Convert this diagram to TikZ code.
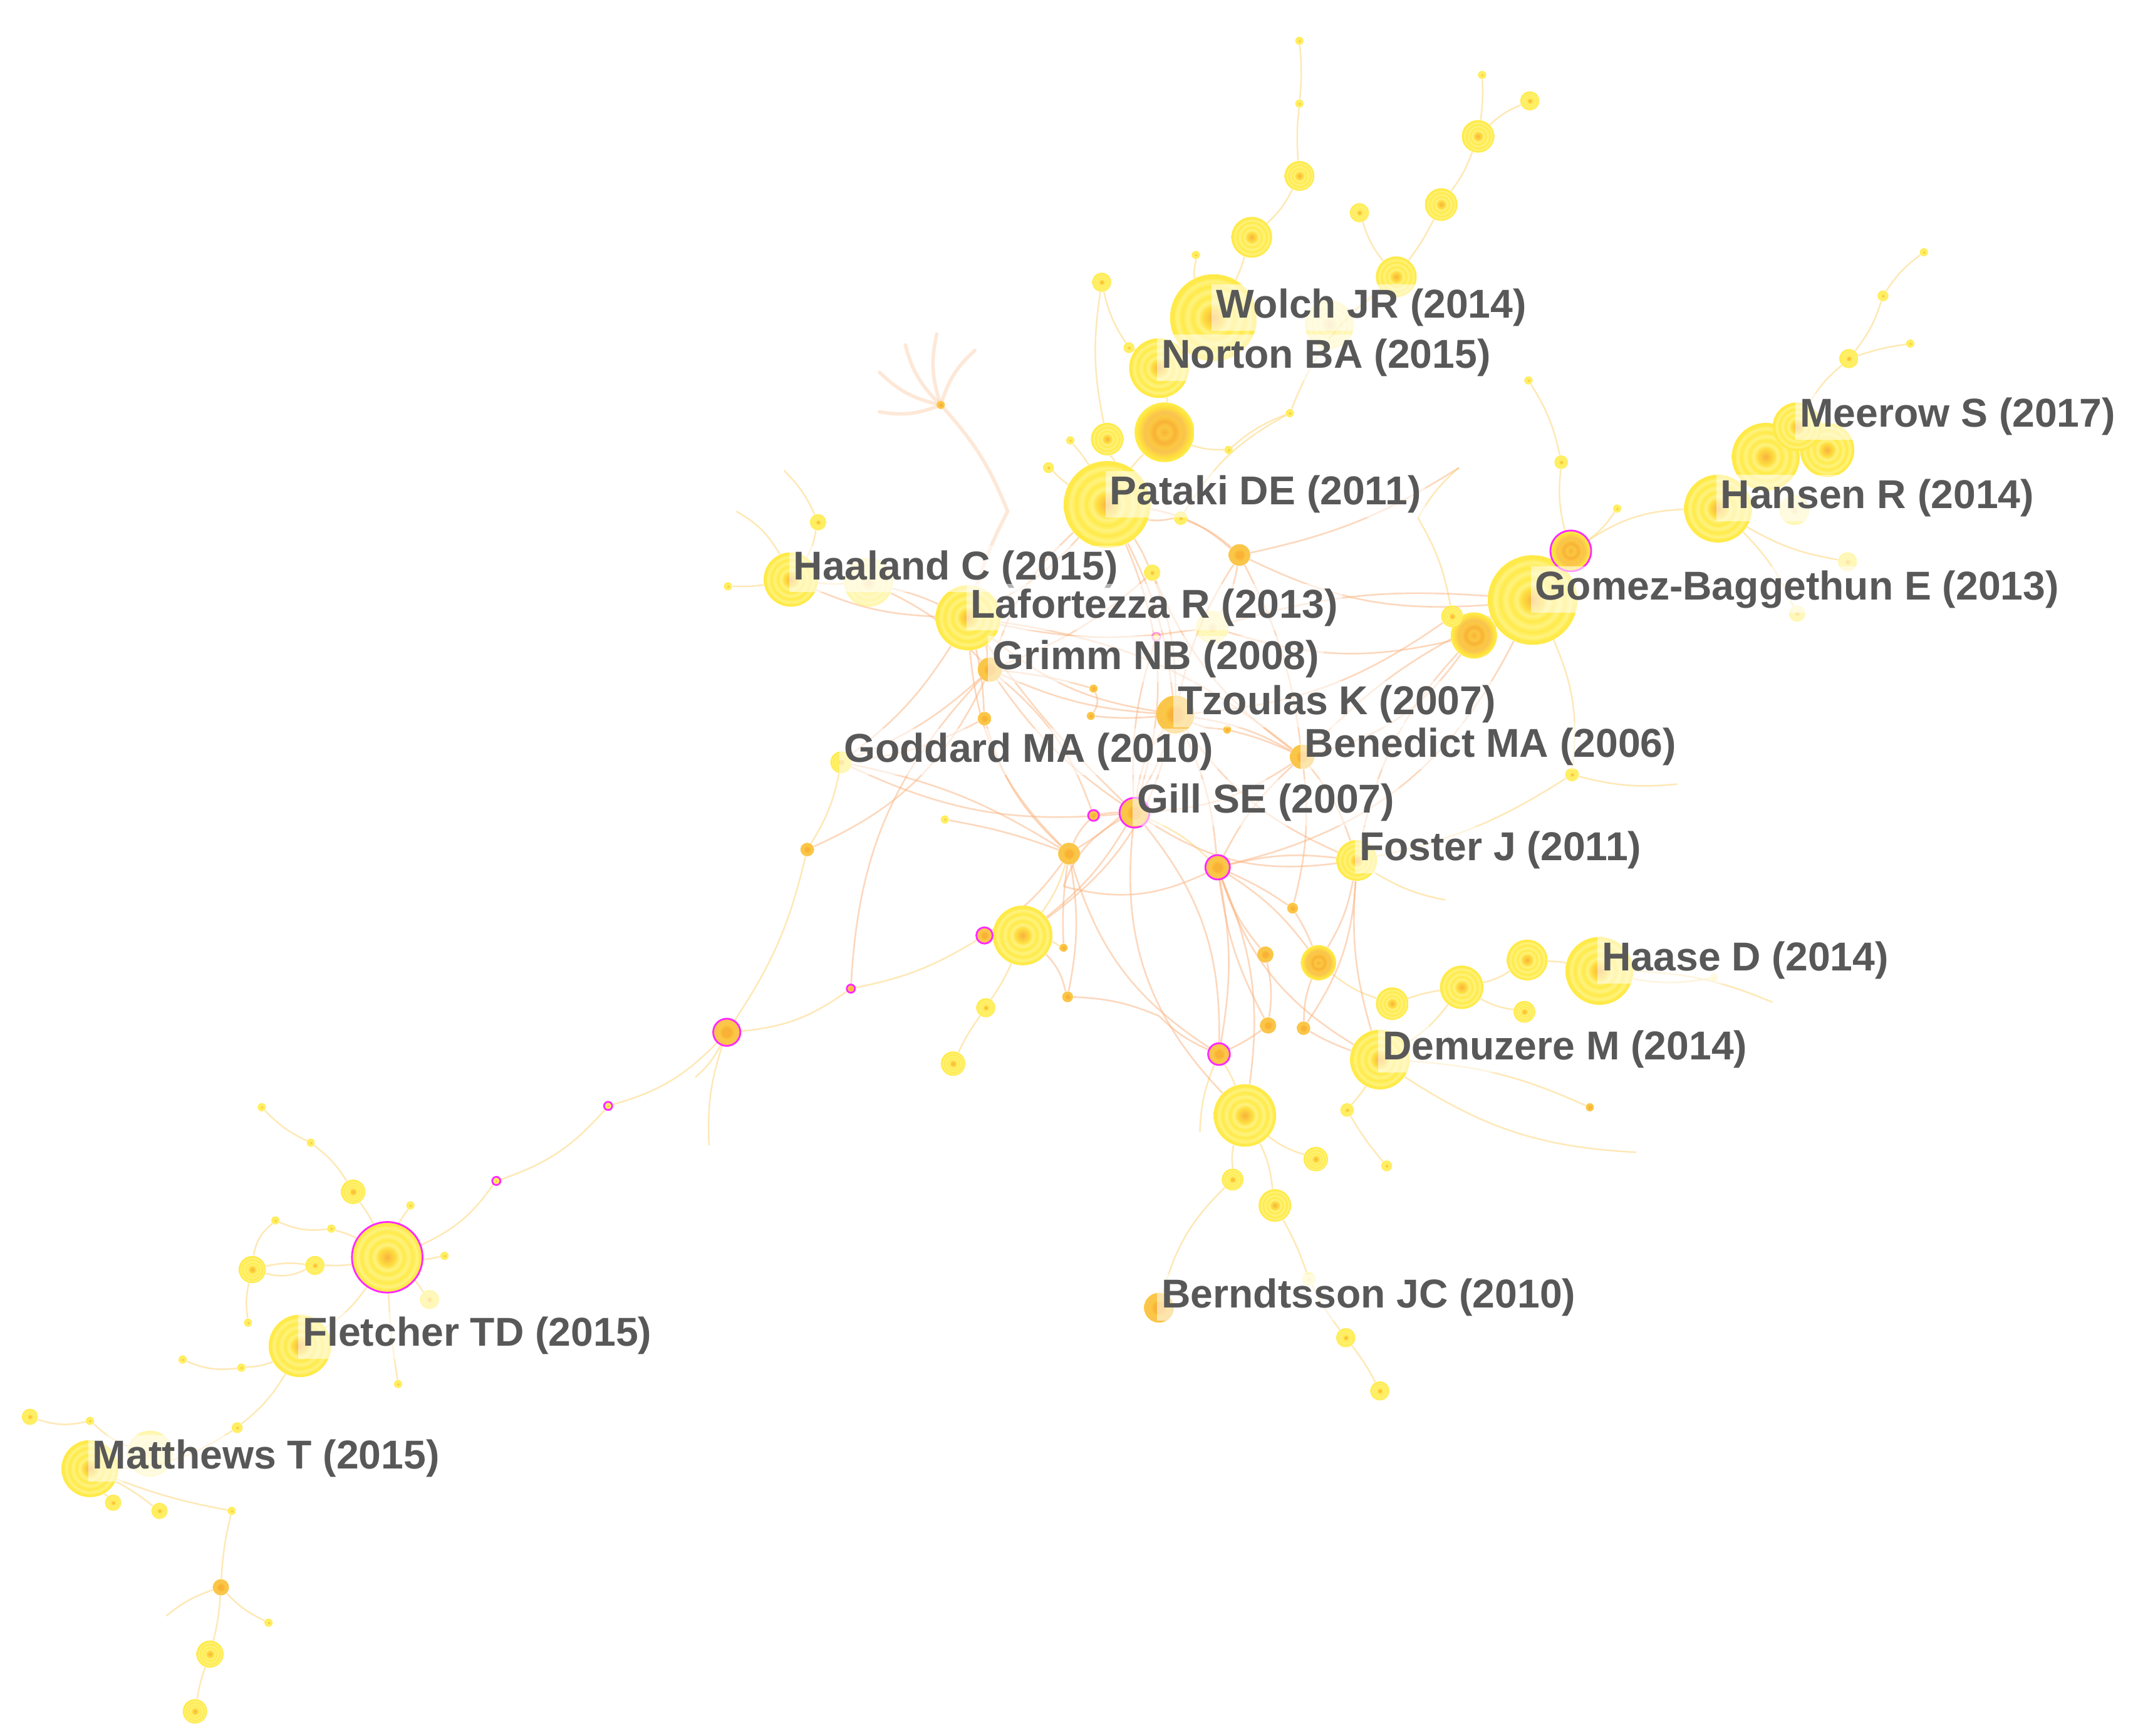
\documentclass[tikz,border=0pt]{standalone}
\usepackage{fontspec}
\newfontfamily\labfont{Liberation Sans}
\definecolor{cY}{RGB}{255,234,72}
\definecolor{cYl}{RGB}{255,243,128}
\definecolor{cYm}{RGB}{254,222,62}
\definecolor{cO}{RGB}{249,178,55}
\definecolor{cOm}{RGB}{251,200,65}
\definecolor{cOo}{RGB}{250,196,80}
\definecolor{labgray}{RGB}{88,88,88}
\definecolor{eY}{RGB}{253,222,150}
\definecolor{eO}{RGB}{250,178,125}
\definecolor{mg}{RGB}{255,40,255}
\pgfdeclareradialshading{ringY}{\pgfpoint{0bp}{0bp}}{color(0bp)=(cO); color(3bp)=(cOm); color(6bp)=(cYm); color(9bp)=(cYl); color(12bp)=(cY); color(15bp)=(cYl); color(18bp)=(cY); color(21bp)=(cYl); color(23bp)=(cY); color(50bp)=(cY)}
\pgfdeclareradialshading{ringM}{\pgfpoint{0bp}{0bp}}{color(0bp)=(cO); color(5bp)=(cOm); color(9bp)=(cO); color(13bp)=(cOm); color(17bp)=(cOo); color(21bp)=(cYm); color(24bp)=(cY); color(50bp)=(cY)}
\pgfdeclareradialshading{ringO}{\pgfpoint{0bp}{0bp}}{color(0bp)=(cO); color(8bp)=(cO); color(14bp)=(cOm); color(20bp)=(cOo); color(25bp)=(cOm); color(50bp)=(cOm)}
\pgfdeclarelayer{bg}
\pgfsetlayers{bg,main}
\tikzset{
  cnode/.style={circle,inner sep=0pt,draw=none,shading=ringY},
  orn/.style={shading=ringO},
  mid/.style={shading=ringM},
  faint/.style={opacity=0.45},
  mag/.style={draw=mg,line width=0.8pt},
  lab/.style={font=\labfont\bfseries\fontsize{18.3}{20}\selectfont,text=labgray,fill=white,fill opacity=0.55,text opacity=1,inner sep=2pt,anchor=base west},
  edgeY/.style={draw=eY,line width=0.7pt,opacity=0.7},
  edgeO/.style={draw=eO,line width=0.75pt,opacity=0.5},
  edgeF/.style={draw=eO,line width=1.6pt,opacity=0.3,line cap=round}
}
\newcommand\CN[5]{\node[cnode,#5,minimum size=#4*1.234pt] (#1) at (#2,#3) {};}
\newcommand\LB[3]{\node[lab] (#1) at ([xshift=-1pt]#2.center) {#3};}
\begin{document}
\begin{tikzpicture}[x=0.021767cm,y=-0.021767cm]
\useasboundingbox (0,0) rectangle (1568,1273);
% ---------- nodes: top
\CN{t1}{953}{30}{3}{}
\CN{t2}{953}{76}{3}{}
\CN{t3}{953}{129}{11}{}
\CN{t4}{918}{174}{15}{}
\CN{t5}{877}{187}{3}{}
\CN{wfa}{975}{238}{18}{faint}
\CN{wol}{890}{233}{32}{}
\CN{t6}{1087}{55}{3}{}
\CN{t7}{1122}{74}{7}{}
\CN{t8}{1084}{100}{12}{}
\CN{t9}{1057}{150}{12}{}
\CN{t10}{997}{156}{7}{}
\CN{t11}{1024}{203}{15}{}
\CN{t12}{808}{207}{7}{}
\CN{t13}{828}{255}{4}{}
\CN{nor}{850}{270}{22}{}
\CN{t14}{854}{317}{22}{mid}
\CN{t15}{812}{322}{12}{}
\CN{t16}{785}{323}{3}{}
\CN{t17}{769}{343}{4}{}
\CN{t18}{901}{330}{3}{}
\CN{t19}{946}{303}{3}{}
\CN{t20}{1121}{279}{3}{}
\CN{t21}{1145}{339}{5}{}
\CN{t22}{1186}{373}{3}{}
\CN{pat}{812}{370}{32}{}
\CN{t24}{1295}{335}{25}{}
\CN{t25}{1340}{330}{20}{}
\CN{mee}{1318}{313}{18}{}
\CN{hfa}{1316}{374}{11}{faint}
\CN{han}{1260}{373}{25}{}
\CN{t26}{1356}{263}{7}{}
\CN{t27}{1381}{217}{4}{}
\CN{t28}{1411}{185}{3}{}
\CN{t29}{1401}{252}{3}{}
\CN{t30}{1355}{412}{7}{faint}
\CN{t31}{1318}{450}{6}{faint}
\CN{t32}{1081}{466}{17}{mid}
\CN{t33}{1065}{452}{8}{}
\CN{gom}{1124}{440}{33}{}
\CN{t23}{1152}{404}{15}{mid,mag}
\CN{t34}{637}{427}{18}{faint}
\CN{hal}{580}{425}{20}{}
\CN{t35}{600}{383}{6}{}
\CN{t36}{534}{430}{3}{}
\CN{laf}{710}{453}{24}{}
\CN{t37}{845}{420}{6}{}
\CN{t38}{909}{407}{8}{orn}
\CN{t39}{866}{380}{5}{}
\CN{t40}{889}{460}{12}{faint}
\CN{t40b}{848}{467}{3}{mag,faint}
\CN{gri}{726}{491}{9}{orn}
\CN{t41}{722}{527}{5}{orn}
\CN{t41b}{802}{505}{3}{orn}
\CN{t41c}{800}{525}{3}{orn}
\CN{t41d}{900}{535}{3}{orn}
\CN{tzo}{862}{524}{14}{orn}
\CN{god}{617}{559}{8}{}
\CN{ben}{955}{555}{9}{orn}
\CN{t42}{1153}{568}{5}{}
\CN{gil}{832}{596}{11}{orn,mag}
\CN{t43}{802}{598}{4}{orn,mag}
\CN{t44}{784}{626}{8}{orn}
\CN{t45}{693}{601}{3}{}
\CN{t46}{592}{623}{5}{orn}
\CN{fos}{995}{631}{15}{}
\CN{t47}{893}{636}{9}{orn,mag}
\CN{fan}{690}{297}{3}{orn}
% ---------- nodes: lower centre
\CN{t48}{750}{686}{22}{}
\CN{t49}{722}{686}{6}{orn,mag}
\CN{t50}{723}{739}{7}{}
\CN{t51}{699}{780}{9}{}
\CN{t52}{783}{731}{4}{orn}
\CN{t53}{780}{695}{3}{orn}
\CN{t54}{624}{725}{3}{orn,mag}
\CN{t55}{533}{757}{10}{orn,mag}
\CN{t56}{446}{811}{3}{mag}
\CN{t57}{364}{866}{3}{mag}
\CN{t58}{948}{666}{4}{orn}
\CN{t59}{928}{700}{6}{orn}
\CN{t60}{967}{706}{13}{mid}
\CN{t61}{930}{752}{6}{orn}
\CN{t62}{956}{754}{5}{orn}
\CN{t63}{894}{773}{8}{orn,mag}
\CN{t64}{913}{818}{23}{}
\CN{t65}{965}{850}{9}{}
\CN{t66}{904}{865}{8}{}
\CN{t67}{935}{884}{12}{}
\CN{t68}{960}{938}{5}{faint}
\CN{t69}{987}{981}{7}{}
\CN{t70}{1012}{1020}{7}{}
\CN{ber}{850}{959}{11}{orn}
\CN{t71}{988}{814}{5}{}
\CN{t72}{1017}{855}{4}{}
\CN{dem}{1012}{777}{22}{}
\CN{t73}{1021}{736}{12}{}
\CN{t74}{1072}{724}{16}{}
\CN{t75}{1120}{704}{15}{}
\CN{t76}{1118}{742}{8}{}
\CN{has}{1173}{712}{25}{}
\CN{t77}{1257}{717}{3}{faint}
\CN{t78}{1166}{812}{3}{orn}
% ---------- nodes: lower left
\CN{fl0}{284}{922}{26}{mag}
\CN{l1}{259}{874}{9}{}
\CN{l2}{301}{884}{3}{}
\CN{l3}{326}{921}{3}{}
\CN{l4}{315}{953}{7}{faint}
\CN{l5}{228}{838}{3}{}
\CN{l6}{192}{812}{3}{}
\CN{l7}{185}{931}{10}{}
\CN{l8}{231}{928}{7}{}
\CN{l9}{202}{895}{3}{}
\CN{l10}{243}{901}{3}{}
\CN{l11}{182}{970}{3}{}
\CN{fle}{220}{987}{23}{}
\CN{l12}{177}{1003}{3}{}
\CN{l13}{134}{997}{3}{}
\CN{l14}{292}{1015}{3}{}
\CN{l15}{22}{1039}{6}{}
\CN{l16}{66}{1042}{3}{}
\CN{l17}{110}{1066}{17}{faint}
\CN{mat}{66}{1077}{21}{}
\CN{l18}{83}{1102}{6}{}
\CN{l19}{117}{1108}{6}{}
\CN{l20}{170}{1108}{3}{}
\CN{l21}{174}{1047}{4}{}
\CN{l22}{162}{1164}{6}{orn}
\CN{l23}{197}{1190}{3}{}
\CN{l24}{154}{1213}{10}{}
\CN{l25}{143}{1255}{9}{}
% ---------- free ends
\coordinate (f1) at (687,245);
\coordinate (f2) at (664,253);
\coordinate (f3) at (645,273);
\coordinate (f4) at (645,302);
\coordinate (f5) at (715,257);
\coordinate (f6) at (739,375);
\coordinate (f7) at (575,345);
\coordinate (f8) at (540,375);
\coordinate (f9) at (510,790);
\coordinate (f10) at (520,840);
\coordinate (f11) at (1200,845);
\coordinate (f12) at (1300,735);
\coordinate (f13) at (122,1185);
\coordinate (f14) at (1060,660);
\coordinate (f15) at (1070,343);
\coordinate (f16) at (1230,575);
\coordinate (f17) at (780,650);
\coordinate (f18) at (1040,380);
\coordinate (f19) at (850,745);
\coordinate (f20) at (880,830);
% ---------- edges
\begin{pgfonlayer}{bg}
\foreach \a/\b/\c in {t1/t2/5,t2/t3/-5,t3/t4/10,t4/wol/5,t5/wol/-10,t6/t8/5,t7/t8/-10,t8/t9/8,t9/t11/5,t10/t11/-10,t11/wfa/5,t12/t13/-10,t13/nor/5,nor/t14/10,t14/pat/-5,t15/pat/10,t16/pat/5,t17/pat/-5,t18/t14/10,t19/t18/-10,t19/t11/15,t19/t39/-15,t20/t21/10,t21/t23/-10,t22/t23/10,t23/gom/-10,t23/han/15,han/t24/5,t24/t25/5,mee/t26/10,t26/t27/-10,t27/t28/10,t26/t29/5,han/t30/-10,han/t31/10,gom/t33/10,t32/gom/-5,t35/hal/10,t36/hal/-5,t34/hal/5,f7/t35/10,f8/hal/15,t12/t15/-10,nor/wol/5}
  \draw[edgeY] (\a) to[bend left=\c] (\b);
\foreach \a/\b/\c in {l1/fl0/5,l2/fl0/-5,l3/fl0/5,l4/fl0/-5,l5/l1/10,l6/l5/-10,l7/l8/10,l8/fl0/-5,l7/l8/-20,l9/l10/-15,l10/fl0/5,l11/l7/10,l9/l7/-20,fle/fl0/-10,fle/l12/10,l12/l13/15,l14/fl0/3,mat/l21/-15,l21/fle/-10,l15/l16/-15,l16/l17/-10,l18/mat/5,l19/mat/-5,l20/mat/5,l22/l20/5,l22/l23/-10,l22/l24/5,l24/l25/-5,f13/l22/10,fl0/t57/-15,t57/t56/-15,t56/t55/-15,t55/t54/-15,t54/t49/-10,t49/t48/5,t55/t46/-10,t46/god/-10,f9/t55/-10,f10/t55/10,t50/t48/-5,t51/t50/5,t48/t44/-10,t48/t53/5}
  \draw[edgeY] (\a) to[bend left=\c] (\b);
\foreach \a/\b/\c in {t63/t64/5,t64/t66/-10,t64/t67/10,t64/t65/-10,t67/t68/5,t68/t69/-5,t69/t70/5,ber/t66/15,t71/dem/-5,t72/t71/5,dem/t74/-10,t73/t74/5,t74/t75/-10,t75/has/5,t76/t74/10,t60/t73/-10,has/t77/-10,has/f12/10,dem/f11/-15,dem/t78/10,t42/fos/10,t42/gom/-15,f16/t42/10,fos/f14/-10,gil/t47/10,f18/t33/10,f15/f18/-10,f20/t63/10}
  \draw[edgeY] (\a) to[bend left=\c] (\b);
\foreach \e in {f1,f2,f3,f4,f5} \draw[edgeF] (fan) to[bend left=15] (\e);
\draw[edgeF] (fan) to[bend left=10] (f6) to[bend left=-5] (laf);
\foreach \a/\b/\c in {pat/laf/10,pat/gri/-15,pat/tzo/10,pat/t37/5,pat/t39/-10,pat/gil/20,pat/t38/15,laf/gri/10,laf/tzo/-15,laf/god/10,laf/t44/-20,laf/t41/5,laf/ben/15,laf/t40/-10,hal/laf/-10,t34/laf/5,t34/gri/10,gri/tzo/-10,gri/t43/15,gri/gil/-10,gri/god/10,gri/t41b/5,tzo/ben/10,tzo/gil/-15,tzo/t47/10,tzo/t44/20,tzo/fos/-15,tzo/t38/10,tzo/t41c/5,tzo/t41d/-10,t41d/ben/5,ben/fos/10,ben/t47/-10,ben/gil/15,ben/t32/-20,ben/gom/10,ben/t58/10,t38/gom/-15,t37/tzo/10,t37/ben/-15,t39/t38/10,t40/gom/10,t40/t32/-15,god/t44/10,god/gil/-15,t45/t44/5,t44/t43/10,t43/gil/5,gil/fos/-20,gil/t63/20,gil/t64/-25,t44/t52/10,t44/t63/-20,t47/fos/10,t47/t58/5,t47/t59/-10,t47/t60/10,t47/t61/-10,t47/t64/15,t47/dem/-20,t47/t63/10,fos/t60/10,fos/dem/-10,fos/t62/15,t58/t60/5,t59/t61/10,t60/t62/-10,t61/t63/5,t62/dem/-5,t52/f19/10,f19/t63/-10,t53/t44/5,t48/gil/-10,t48/tzo/-20,t48/t52/15,t49/t44/-10,t54/gri/20,t46/gri/-20,gom/t47/25,t32/fos/-15,t33/tzo/15,t38/t40/10,t41/god/10,t41/t44/-15,t41b/t41c/30,t40b/gil/-10,f15/t38/10,f17/t47/-20,f17/gil/20,t38/ben/10,laf/gil/-5,t37/gri/10}
  \draw[edgeO] (\a) to[bend left=\c] (\b);
\end{pgfonlayer}
% ---------- labels
\LB{lwol}{wol}{Wolch JR (2014)}
\LB{lnor}{nor}{Norton BA (2015)}
\LB{lmee}{mee}{Meerow S (2017)}
\LB{lhan}{han}{Hansen R (2014)}
\LB{lpat}{pat}{Pataki DE (2011)}
\LB{lhal}{hal}{Haaland C (2015)}
\LB{lgom}{gom}{Gomez-Baggethun E (2013)}
\LB{llaf}{laf}{Lafortezza R (2013)}
\LB{lgri}{gri}{Grimm NB (2008)}
\LB{ltzo}{tzo}{Tzoulas K (2007)}
\LB{lgod}{god}{Goddard MA (2010)}
\LB{lben}{ben}{Benedict MA (2006)}
\LB{lgil}{gil}{Gill SE (2007)}
\LB{lfos}{fos}{Foster J (2011)}
\LB{lhas}{has}{Haase D (2014)}
\LB{ldem}{dem}{Demuzere M (2014)}
\LB{lber}{ber}{Berndtsson JC (2010)}
\LB{lfle}{fle}{Fletcher TD (2015)}
\LB{lmat}{mat}{Matthews T (2015)}
\end{tikzpicture}
\end{document}
